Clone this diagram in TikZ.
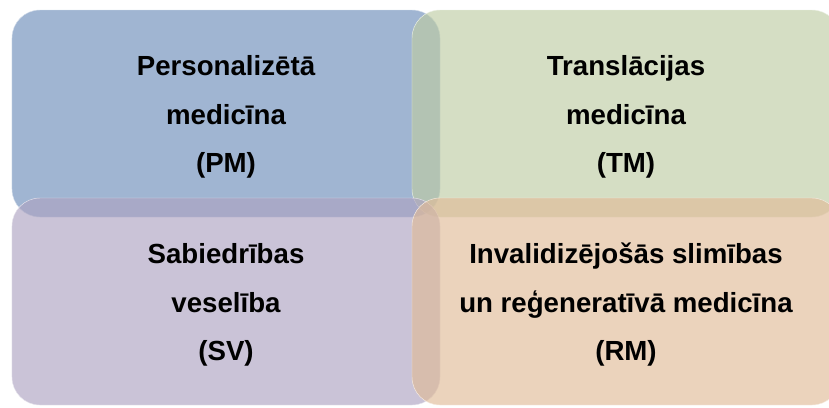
\documentclass[tikz,border=0pt]{standalone}
\usepackage{fontspec}
\setmainfont{Liberation Sans}
\usetikzlibrary{calc}

\definecolor{pmblue}{HTML}{6D8DBA}
\definecolor{tmgreen}{HTML}{BECCA4}
\definecolor{svpurple}{HTML}{ADA3C1}
\definecolor{rmorange}{HTML}{E0BB98}

\begin{document}
\begin{tikzpicture}[x=0.03cm, y=-0.03cm,
  area/.style={rounded corners=0.84cm, minimum width=12.84cm, minimum height=6.21cm,
    inner sep=0pt, align=center, fill opacity=0.65, text opacity=1.0,
    text height=106pt, text depth=5pt,
    font=\fontsize{23.6}{41.5}\selectfont\bfseries}]

\clip (0,0) rectangle (829,407);

\node[name=pm, area, fill=pmblue, draw=pmblue!30!white] at (226,113.5) {Personalizētā\\medicīna\\(PM)};
\node[name=tm, area, fill=tmgreen, draw=tmgreen!30!white] at (626,113.5) {Translācijas\\medicīna\\(TM)};
\node[name=sv, area, fill=svpurple, draw=svpurple!30!white] at (226,301.5) {Sabiedrības\\veselība\\(SV)};
\node[name=rm, area, fill=rmorange, draw=rmorange!30!white] at (626,301.5) {Invalidizējošās slimības\\un reģeneratīvā medicīna\\(RM)};
\end{tikzpicture}
\end{document}
